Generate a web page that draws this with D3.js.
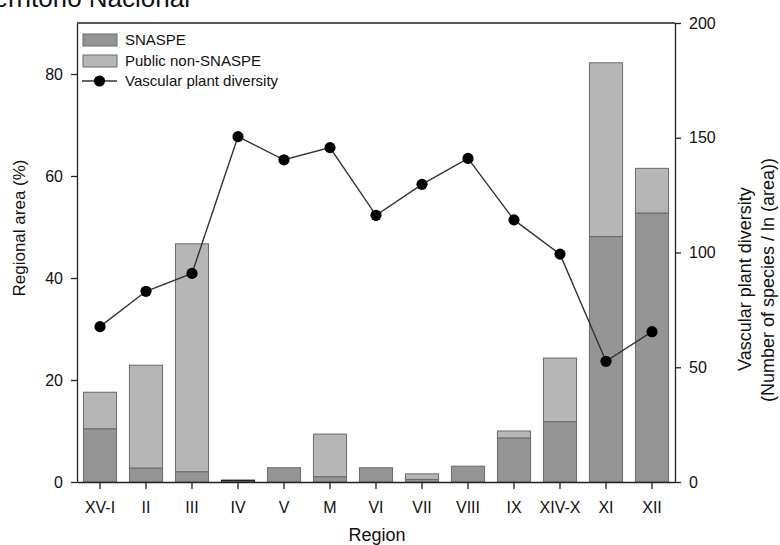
<!DOCTYPE html>
<html><head><meta charset="utf-8">
<script src="https://cdn.jsdelivr.net/npm/d3@7"></script>
<style>body{margin:0;background:#fff;} svg{display:block;font-family:"Liberation Sans",Arial,sans-serif;}</style>
</head><body>
<svg id="c" width="780" height="545"></svg>
<script>
const regions = ["XV-I","II","III","IV","V","M","VI","VII","VIII","IX","XIV-X","XI","XII"];
const snaspe = [10.4, 2.7, 2.0, 0.3, 2.8, 1.0, 2.8, 0.5, 3.1, 8.6, 11.8, 48.1, 52.7];
const publicTotal = [17.6, 22.9, 46.7, 0.4, 2.8, 9.4, 2.8, 1.6, 3.1, 10.0, 24.3, 82.2, 61.5];
const diversity = [67.7, 83.1, 90.9, 150.5, 140.4, 145.7, 116.2, 129.7, 141.0, 114.2, 99.3, 52.6, 65.5];
const leftTicks = [0, 20, 40, 60, 80];
const rightTicks = [0, 50, 100, 150, 200];

const svg = d3.select("#c");
const L = 77, R = 675, T = 23, B = 482;
const x = d3.scaleBand().domain(regions).range([L, R]).paddingInner(0.28).paddingOuter(0.14);
const yL = d3.scaleLinear().domain([0, 90]).range([B, T]);
const yR = d3.scaleLinear().domain([0, 200]).range([B, T]);

// caption fragment (cut off at top edge in the reference)
svg.append("text").attr("x", 190).attr("y", 7).attr("text-anchor", "end")
  .attr("font-size", 26).attr("fill", "#111").text("territorio Nacional");

const dark = "#959595", light = "#b6b6b6", edge = "#6a6a6a";
const g = svg.append("g");
regions.forEach((r, i) => {
  g.append("rect").attr("x", x(r)).attr("width", x.bandwidth())
    .attr("y", yL(publicTotal[i])).attr("height", yL(snaspe[i]) - yL(publicTotal[i]))
    .attr("fill", light).attr("stroke", edge).attr("stroke-width", 1);
  g.append("rect").attr("x", x(r)).attr("width", x.bandwidth())
    .attr("y", yL(snaspe[i])).attr("height", B - yL(snaspe[i]))
    .attr("fill", dark).attr("stroke", i === 3 ? "#222" : edge).attr("stroke-width", 1);
});

const line = d3.line().x((d, i) => x(regions[i]) + x.bandwidth() / 2).y(d => yR(d));
svg.append("path").attr("d", line(diversity)).attr("fill", "none").attr("stroke", "#333").attr("stroke-width", 1.4);
svg.selectAll("circle.m").data(diversity).enter().append("circle")
  .attr("cx", (d, i) => x(regions[i]) + x.bandwidth() / 2).attr("cy", d => yR(d)).attr("r", 5.6).attr("fill", "#000");

const axisCol = "#222";
const ax = svg.append("g").attr("transform", `translate(0,${B})`)
  .call(d3.axisBottom(x).tickSize(7).tickPadding(13).tickSizeOuter(0));
const al = svg.append("g").attr("transform", `translate(${L},0)`)
  .call(d3.axisLeft(yL).tickValues(leftTicks).tickSize(6).tickPadding(8).tickSizeOuter(0));
const ar = svg.append("g").attr("transform", `translate(${R},0)`)
  .call(d3.axisRight(yR).tickValues(rightTicks).tickSize(6).tickPadding(8).tickSizeOuter(0));
[ax, al, ar].forEach(a => {
  a.selectAll("path,line").attr("stroke", axisCol).attr("stroke-width", 1.3);
  a.selectAll("text").attr("font-size", 16).attr("fill", "#111").attr("font-family", '"Liberation Sans",Arial,sans-serif');
});
svg.append("line").attr("x1", L).attr("x2", R).attr("y1", T).attr("y2", T).attr("stroke", axisCol).attr("stroke-width", 1.3);

svg.append("text").attr("transform", "translate(25,228) rotate(-90)").attr("text-anchor", "middle")
  .attr("font-size", 17).attr("fill", "#111").text("Regional area (%)");
svg.append("text").attr("transform", "translate(751,279) rotate(-90)").attr("text-anchor", "middle")
  .attr("font-size", 18).attr("fill", "#111").text("Vascular plant diversity");
svg.append("text").attr("transform", "translate(774,280) rotate(-90)").attr("text-anchor", "middle")
  .attr("font-size", 18).attr("fill", "#111").text("(Number of species / ln (area))");
svg.append("text").attr("x", 377).attr("y", 541).attr("text-anchor", "middle")
  .attr("font-size", 18).attr("fill", "#111").text("Region");

const lg = svg.append("g");
const items = [["SNASPE", dark], ["Public non-SNASPE", light]];
items.forEach((it, i) => {
  lg.append("rect").attr("x", 83).attr("y", 34 + i * 21).attr("width", 34).attr("height", 12)
    .attr("fill", it[1]).attr("stroke", edge);
  lg.append("text").attr("x", 125).attr("y", 45 + i * 21).attr("font-size", 15).attr("fill", "#111").text(it[0]);
});
lg.append("line").attr("x1", 82).attr("x2", 117).attr("y1", 81).attr("y2", 81).attr("stroke", "#333").attr("stroke-width", 1.4);
lg.append("circle").attr("cx", 99.5).attr("cy", 81).attr("r", 5.6).attr("fill", "#000");
lg.append("text").attr("x", 125).attr("y", 86).attr("font-size", 15).attr("fill", "#111").text("Vascular plant diversity");
</script>
</body></html>
